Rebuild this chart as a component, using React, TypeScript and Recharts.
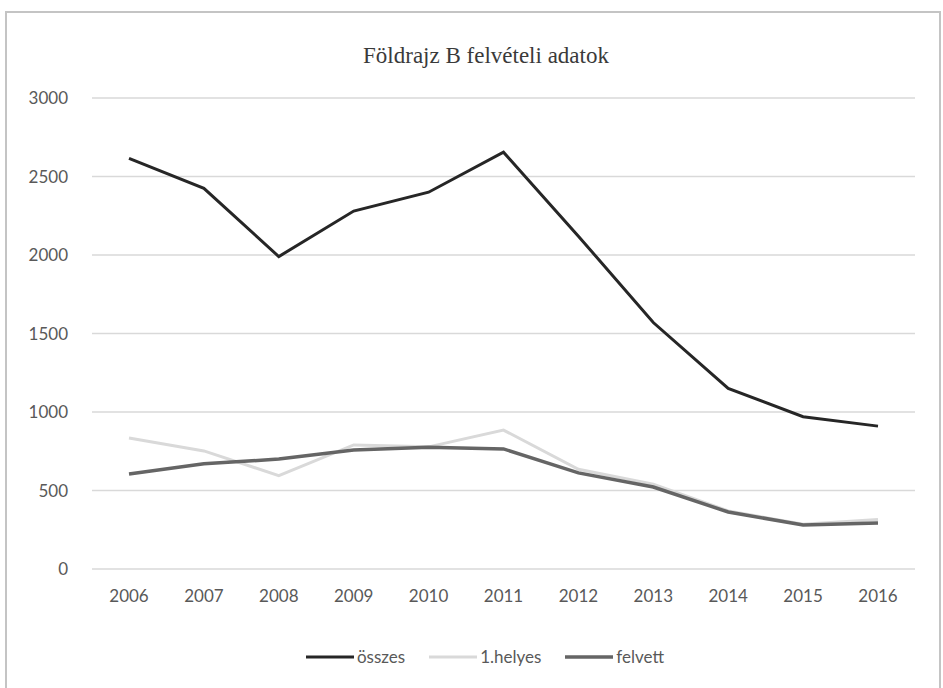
import { LineChart, Line, XAxis, YAxis, CartesianGrid, Legend } from 'recharts'

const YEARS = ['2006', '2007', '2008', '2009', '2010', '2011', '2012', '2013', '2014', '2015', '2016']
const OSSZES = [2615, 2425, 1990, 2280, 2400, 2655, 2120, 1570, 1150, 970, 910]
const ELSO_HELYES = [835, 752, 595, 790, 778, 885, 635, 540, 370, 285, 315]
const FELVETT = [605, 670, 700, 758, 775, 765, 612, 522, 363, 280, 293]
const Y_TICKS = [0, 500, 1000, 1500, 2000, 2500, 3000]

const SERIES = [
  { key: 'osszes', name: 'összes', color: '#262626', width: 3 },
  { key: 'helyes', name: '1.helyes', color: '#d9d9d9', width: 3 },
  { key: 'felvett', name: 'felvett', color: '#656565', width: 3.5 },
]

const data = YEARS.map((year, i) => ({
  year,
  osszes: OSSZES[i],
  helyes: ELSO_HELYES[i],
  felvett: FELVETT[i],
}))

const FONT = 'Lato, "Open Sans", sans-serif'

const LegendContent = () => (
  <div style={{ display: 'flex', justifyContent: 'center', paddingLeft: 26, fontFamily: FONT, fontSize: 17, color: '#595959' }}>
    {SERIES.map((s, i) => (
      <div key={s.key} style={{ display: 'flex', alignItems: 'center', marginRight: i < SERIES.length - 1 ? 24 : 0 }}>
        <svg width={48} height={10} style={{ marginRight: 3 }}>
          <line x1={0} y1={5} x2={48} y2={5} stroke={s.color} strokeWidth={s.width} />
        </svg>
        <span>{s.name}</span>
      </div>
    ))}
  </div>
)

export default function App() {
  return (
    <div
      style={{
        position: 'absolute',
        left: 5,
        top: 11,
        width: 936,
        height: 700,
        border: '2px solid #c4c4c4',
        boxSizing: 'border-box',
        background: '#fff',
      }}
    >
      <div
        style={{
          position: 'absolute',
          top: 30,
          left: 14,
          width: 930,
          textAlign: 'center',
          fontFamily: '"Liberation Serif", "DejaVu Serif", serif',
          fontSize: 23,
          color: '#3a3a3a',
          lineHeight: '26px',
        }}
      >
        Földrajz B felvételi adatok
      </div>
      <LineChart width={930} height={680} data={data} margin={{ top: 85, right: 22, left: 0, bottom: 74 }}>
        <CartesianGrid vertical={false} stroke="#d9d9d9" strokeWidth={1.5} />
        <XAxis
          dataKey="year"
          axisLine={false}
          tickLine={false}
          tickSize={0}
          tickMargin={21}
          padding={{ left: 37, right: 37 }}
          tick={{ fill: '#595959', fontSize: 17, fontFamily: FONT }}
          height={50}
        />
        <YAxis
          domain={[0, 3000]}
          ticks={Y_TICKS}
          axisLine={false}
          tickLine={false}
          tickSize={0}
          tickMargin={24}
          width={85}
          tick={{ fill: '#595959', fontSize: 17, fontFamily: FONT }}
        />
        <Legend
          layout="horizontal"
          verticalAlign="middle"
          content={<LegendContent />}
          wrapperStyle={{ top: 633, left: 0, width: 930 }}
        />
        {SERIES.map((s) => (
          <Line
            key={s.key}
            type="linear"
            dataKey={s.key}
            name={s.name}
            stroke={s.color}
            strokeWidth={s.width}
            dot={false}
            activeDot={false}
            isAnimationActive={false}
          />
        ))}
      </LineChart>
    </div>
  )
}
